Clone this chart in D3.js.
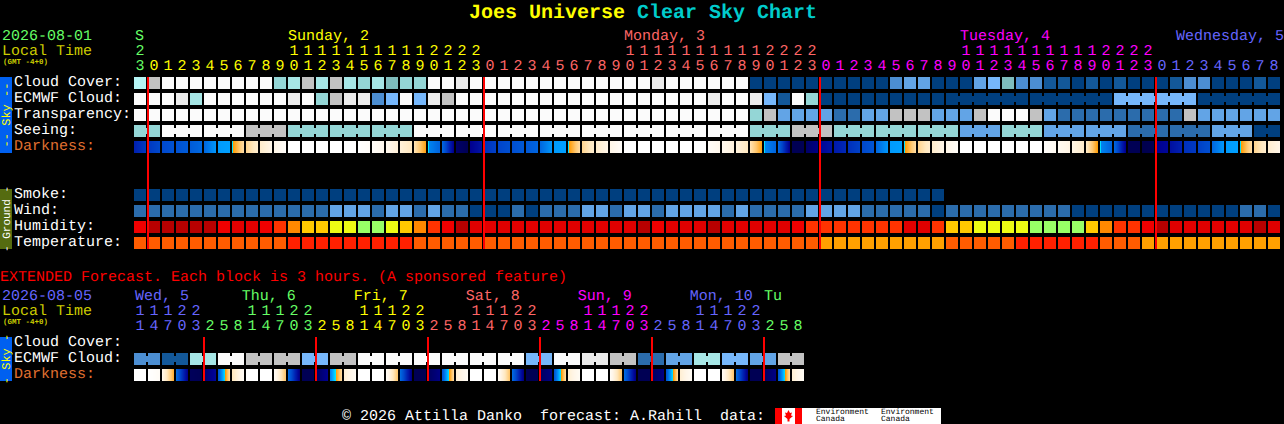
<!DOCTYPE html>
<html><head><meta charset="utf-8">
<script src="https://cdn.jsdelivr.net/npm/d3@7"></script>
<style>
html,body{margin:0;padding:0;background:#000;overflow:hidden}
svg{display:block}
text{font-family:"Liberation Mono",monospace;font-size:15px;white-space:pre;text-rendering:geometricPrecision}
</style></head><body>
<script>
// ---------- main forecast: one value per hour column, from 23h Saturday ----------
const mainHours=[23,0,1,2,3,4,5,6,7,8,9,10,11,12,13,14,15,16,17,18,19,20,21,22,23,0,1,2,3,4,5,6,7,8,9,10,11,12,13,14,15,16,17,18,19,20,21,22,23,0,1,2,3,4,5,6,7,8,9,10,11,12,13,14,15,16,17,18,19,20,21,22,23,0,1,2,3,4,5,6,7,8];
const mainHourDay=[0,1,1,1,1,1,1,1,1,1,1,1,1,1,1,1,1,1,1,1,1,1,1,1,1,2,2,2,2,2,2,2,2,2,2,2,2,2,2,2,2,2,2,2,2,2,2,2,2,3,3,3,3,3,3,3,3,3,3,3,3,3,3,3,3,3,3,3,3,3,3,3,3,4,4,4,4,4,4,4,4,4];
const cloudCover=[9,10,12,12,12,12,12,12,12,12,7,8,10,8,10,8,7,8,6,7,7,12,12,11,12,12,12,12,12,12,12,12,12,12,12,12,12,11,12,12,12,12,12,12,0,0,0,0,0,0,0,0,0,0,3,4,4,0,0,0,4,5,6,3,3,1,1,0,1,0,1,0,0,0,1,3,3,0,0,0,1,0];
const ecmwfCloud=[12,12,12,11,8,12,12,12,12,12,12,11,12,7,10,11,11,3,5,12,5,11,10,12,12,12,12,12,12,12,12,12,12,12,12,12,12,12,12,12,12,11,12,12,11,5,1,12,7,0,0,0,0,0,0,0,0,0,0,0,0,0,0,0,0,0,0,0,0,0,5,5,5,5,5,5,0,0,0,0,0,0];
const ecmwfSpans=[1,1,1,1,1,1,1,1,1,1,1,1,1,1,1,1,1,1,1,1,1,1,1,1,1,1,1,1,1,1,1,1,1,1,1,1,1,1,1,1,1,1,1,1,1,1,1,1,1,1,1,1,1,1,1,1,1,1,6,6,6,6];
const transparency=[12,12,12,12,12,12,12,12,12,12,12,12,12,12,12,12,12,12,12,12,12,12,12,12,12,12,12,12,12,12,12,12,12,12,12,12,12,12,12,12,12,12,12,12,7,10,4,4,4,4,2,2,4,4,10,10,10,4,4,4,10,12,12,12,10,4,2,2,2,2,2,2,2,2,2,10,4,4,4,4,4,4];
const seeing=[7,12,12,10,7,7,7,12,12,12,12,12,12,12,12,7,10,7,7,7,4,7,4,4,2,2,4,0];
const seeingSpans=[2,3,3,3,3,3,3,3,3,3,3,3,3,3,3,3,3,3,3,3,3,3,3,3,3,3,3,2];
const darkStart=[2,2.6,3,3.3,3.6,4,4.9,5.8,7.4,8.3,9,10,10,10,10,10,10,9.7,9.2,8.6,7.8,5.8,3.9,.4,1,2.4,2.9,3.2,3.5,4,4.9,5.8,7.4,8.3,9,10,10,10,10,10,10,9.7,9.2,8.7,7.8,5.8,3.9,.1,.4,1.2,1.8,2.4,3,4,4.9,5.8,7.4,8.3,9,10,10,10,10,10,10,9.8,9.4,8.9,8.1,5.8,3.9,.1,0,1,1.5,2.4,2.8,4,4.9,5.8,7.4,8.4];
const darkEnd=[2.6,3,3.3,3.6,4,4.8,5,7.6,8.3,9,9.7,10,10,10,10,10,9.7,9.2,8.6,8,6.2,3.9,1,.1,1.6,2.8,3.2,3.5,3.9,4.8,5,7.6,8.3,9,9.7,10,10,10,10,10,10,9.2,8.7,8,6.2,3.9,1,.1,.8,1.6,2.2,2.8,3.4,4.8,5,7.6,8.3,9,9.7,10,10,10,10,10,10,9.4,8.9,8.3,6.1,3.9,1,.1,.1,1.2,2,2.6,3.2,4.8,5,7.6,8.3,9];
const smoke=[0,0,0,0,0,0,0,0,0,0,0,0,0,0,0,0,0,0,0,0,0,0,0,0,0,0,0,0,0,0,0,0,0,0,0,0,0,0,0,0,0,0,0,0,0,0,0,0,0,0,0,0,0,0,0,0,0,0];
const wind=[2,2,2,2,2,2,2,2,2,2,2,2,2,2,4,4,4,2,4,4,2,4,2,2,0,0,0,2,0,2,2,2,4,4,2,4,4,2,4,4,4,4,2,4,2,2,2,2,4,4,4,4,2,2,2,2,2,0,2,2,2,2,2,2,2,2,2,0,0,0,0,0,0,0,0,0,0,0,0,2,2,0];
const humidity=[2,0,0,0,0,0,2,1,1,2,3,4,5,5,6,6,7,7,6,5,4,3,2,0,1,1,1,1,1,1,1,1,1,1,1,1,0,2,1,1,1,0,1,1,1,1,1,2,3,3,3,3,3,3,3,1,1,3,5,5,6,6,6,6,7,7,7,7,5,4,3,3,2,0,1,1,1,1,1,1,0,1];
const temperature=[1,1,1,1,1,1,1,1,1,1,1,0,0,0,0,0,0,0,0,0,1,1,1,1,1,1,1,1,1,1,1,1,1,1,1,1,1,1,1,1,1,1,1,1,1,1,1,1,1,2,2,2,2,2,2,2,2,2,1,1,1,1,1,0,0,0,0,0,0,1,1,1,2,2,2,2,2,2,2,2,2,2];

// ---------- extended forecast: one label per 3 hours ----------
const extHours=[11,14,17,20,23,2,5,8,11,14,17,20,23,2,5,8,11,14,17,20,23,2,5,8,11,14,17,20,23,2,5,8,11,14,17,20,23,2,5,8,11,14,17,20,23,2,5,8];
const extHourDay=[4,4,4,4,4,0,0,0,0,0,0,0,0,1,1,1,1,1,1,1,1,2,2,2,2,2,2,2,2,3,3,3,3,3,3,3,3,4,4,4,4,4,4,4,4,0,0,0];
const extEcmwf=[3,1,8,12,10,10,5,10,12,12,12,12,12,12,5,12,11,10,2,4,8,5,4,10];
const extDarkStart=[10,10,9,4,.2,.5,3.5,8,10,10,9.5,4,.1,.3,4.5,8.5,10,10,9.5,4,.1,.3,3.5,8.5,10,10,9.5,4,.1,.3,3.5,8.5,10,10,9.5,4,.1,.3,3.5,8.5,10,10,9.5,4,.1,.3,3.5,8.5];
const extDarkEnd=[10,9.6,6.5,1,.1,1.2,7.5,9.5,10,10,7,.8,.1,1,7.5,9.5,10,10,7,.8,.1,.8,7.5,9.5,10,10,7,.8,.1,.8,7.5,9.5,10,10,7,.8,.1,.8,7.5,9.5,10,10,7,.8,.1,.8,7.5,9.5];

// ---------- labels and palettes ----------
const dayColors=["#66ff66","#ffff00","#ff6666","#ff00ff","#6666ff"];
const mainDayLabels=[["S",0.07,0],["Sunday, 2",11,1],["Monday, 3",35,2],["Tuesday, 4",59,3],["Wednesday, 5",74.43,4]];
const extDayLabels=[["Wed, 5",0.07,4],["Thu, 6",7.7,0],["Fri, 7",15.7,1],["Sat, 8",23.7,2],["Sun, 9",31.7,3],["Mon, 10",39.7,4],["Tu",45,0]];
const mainMidnights=[1,25,49,73];
const extMidnights=[5,13,21,29,37,45];
const skyColors=["#003f7f","#135899","#2b6cac","#4c8ed2","#62a4e6","#76b7fb","#7fbdbd","#94d6d6","#a6e6e6","#b5f5f5","#c2c2c2","#ebebeb","#fbfbfb"];
const humidityColors=["#b80000","#e00000","#f00000","#ff3300","#ff8800","#ffc800","#edfc14","#98ff66"];
const temperatureColors=["#ff2000","#ff5c00","#ffa000"];
const darkStops=[0,1,2,3,4,5,5.9,6,7,8,9,10];
const darkStopColors=["#00004d","#000090","#0020b0","#0048cc","#0068e0","#00a0ff","#00e8ff","#ff9a00","#ffc870","#ffe8c0","#fff6e8","#ffffff"];

// ---------- layout ----------
const W=1284,H=424,gridLeft=134,pitch=14,cell=12;
const svg=d3.select("body").append("svg").attr("width",W).attr("height",H);
svg.append("rect").attr("width",W).attr("height",H).attr("fill","#000");
const x=d3.scaleLinear().domain([0,1]).range([gridLeft,gridLeft+pitch]);
const skyScale=d3.scaleOrdinal(d3.range(13),skyColors);
const humScale=d3.scaleOrdinal(d3.range(8),humidityColors);
const tempScale=d3.scaleOrdinal(d3.range(3),temperatureColors);
const darkScale=d3.scaleLinear().domain(darkStops).range(darkStopColors).clamp(true);

function expand(vals,spans){const o=[];vals.forEach((v,i)=>d3.range(spans[i]).forEach(()=>o.push(v)));return o;}
function links(spans){const o=[];let c=0;spans.forEach(s=>{d3.range(s-1).forEach(k=>o.push(c+k));c+=s;});return o;}

function cells(vals,y,scale,linkCols){
  const g=svg.append("g");
  g.selectAll("rect.c").data(vals).join("rect").attr("class","c")
    .attr("x",(d,i)=>x(i)).attr("y",y).attr("width",cell).attr("height",cell)
    .attr("fill",d=>scale(d));
  if(linkCols) g.selectAll("rect.l").data(linkCols).join("rect").attr("class","l")
    .attr("x",c=>x(c)+cell).attr("y",y+3).attr("width",pitch-cell).attr("height",cell-6)
    .attr("fill",c=>scale(vals[c]));
}
function darkRow(st,en,y){
  const g=svg.append("g");
  st.forEach((s,i)=>{
    const e=en[i];
    // twilight cells start with a one pixel turquoise edge, then jump
    const jump=s===5.8?(e>s?0.15:0.7):1/(cell-1);
    const t=d3.scaleLinear().domain([0,1,cell-1]).range([s,s+(e-s)*jump,e]);
    g.append("g").selectAll("rect").data(d3.range(cell)).join("rect")
      .attr("x",p=>x(i)+p).attr("y",y).attr("width",1).attr("height",cell)
      .attr("fill",p=>darkScale(t(p)));
  });
}
function txt(s,px,py,fill,opt={}){
  const e=svg.append("text").attr("x",px).attr("y",py).attr("fill",fill).text(s);
  if(opt.size)e.style("font-size",opt.size+"px");
  if(opt.bold)e.style("font-weight","bold");
  return e;
}
function hourRows(hours,dayIdx,yTens,yUnits){
  const g=svg.append("g").attr("text-anchor","middle");
  g.selectAll("text.u").data(hours).join("text").attr("class","u")
    .attr("x",(d,i)=>x(i)+6).attr("y",yUnits).attr("fill",(d,i)=>dayColors[dayIdx[i]]).text(d=>d%10);
  const t=hours.map((h,i)=>({h,i})).filter(d=>d.h>=10);
  g.selectAll("text.t").data(t).join("text").attr("class","t")
    .attr("x",d=>x(d.i)+6).attr("y",yTens).attr("fill",d=>dayColors[dayIdx[d.i]]).text(d=>Math.floor(d.h/10));
}
function redLines(cols,y0,y1){
  svg.append("g").selectAll("rect").data(cols).join("rect")
    .attr("x",c=>x(c)-1).attr("y",y0).attr("width",2).attr("height",y1-y0).attr("fill","#ff0000");
}
function side(y0,y1,color,label,textColor,size){
  svg.append("rect").attr("x",0).attr("y",y0).attr("width",12).attr("height",y1-y0).attr("fill",color);
  const cy=(y0+y1)/2;
  svg.append("text").attr("transform",`translate(9.5,${cy}) rotate(-90)`).attr("text-anchor","middle")
    .attr("fill",textColor).style("font-size",size+"px").text(label);
}

// ---------- title ----------
const title=svg.append("text").attr("x",469).attr("y",18).style("font-size","20px").style("font-weight","bold");
title.append("tspan").attr("fill","#ffff00").text("Joes Universe ");
title.append("tspan").attr("fill","#00cccc").text("Clear Sky Chart");

// ---------- main header ----------
txt("2026-08-01",2,40,"#66ff66");
txt("Local Time",2,55,"#cccc00");
txt("(GMT -4+0)",3,64,"#cccc00",{size:7.5,bold:true});
mainDayLabels.forEach(d=>txt(d[0],x(d[1]),40,dayColors[d[2]]));
hourRows(mainHours,mainHourDay,55,70);

// ---------- sky block ----------
[["Cloud Cover:",86],["ECMWF Cloud:",102],["Transparency:",118],["Seeing:",134]].forEach(d=>txt(d[0],14,d[1],"#ffffff"));
txt("Darkness:",14,150,"#e07030");
side(77,153,"#0060f0","-- Sky --","#ffff00",12);
cells(cloudCover,77,skyScale);
cells(ecmwfCloud,93,skyScale,links(ecmwfSpans));
cells(transparency,109,skyScale);
cells(expand(seeing,seeingSpans),125,skyScale,links(seeingSpans));
darkRow(darkStart,darkEnd,141);

// ---------- ground block ----------
[["Smoke:",198],["Wind:",214],["Humidity:",230],["Temperature:",246]].forEach(d=>txt(d[0],14,d[1],"#ffffff"));
side(189,249,"#556b10","- Ground -","#ffffff",11);
cells(smoke,189,skyScale);
cells(wind,205,skyScale);
cells(humidity,221,humScale);
cells(temperature,237,tempScale);
redLines(mainMidnights,77,249);

// ---------- extended block ----------
txt("EXTENDED Forecast. Each block is 3 hours. (A sponsored feature)",0,281,"#ff0000");
txt("2026-08-05",2,300,"#6666ff");
txt("Local Time",2,315,"#cccc00");
txt("(GMT -4+0)",3,324,"#cccc00",{size:7.5,bold:true});
extDayLabels.forEach(d=>txt(d[0],x(d[1]),300,dayColors[d[2]]));
hourRows(extHours,extHourDay,315,330);
txt("Cloud Cover:",14,346,"#ffffff");
txt("ECMWF Cloud:",14,362,"#ffffff");
txt("Darkness:",14,378,"#e07030");
side(337,381,"#0060f0","- Sky -","#ffff00",12);
cells(expand(extEcmwf,extEcmwf.map(()=>2)),353,skyScale,links(extEcmwf.map(()=>2)));
darkRow(extDarkStart,extDarkEnd,369);
redLines(extMidnights,337,381);

// ---------- footer ----------
txt("\u00a9 2026 Attilla Danko  forecast: A.Rahill  data:",342,420,"#ffffff");
svg.append("rect").attr("x",775).attr("y",408).attr("width",166).attr("height",16).attr("fill","#ffffff");
svg.append("rect").attr("x",775).attr("y",408).attr("width",7).attr("height",16).attr("fill","#ff0000");
svg.append("rect").attr("x",795).attr("y",408).attr("width",7).attr("height",16).attr("fill","#ff0000");
svg.append("path").attr("transform","translate(788.5,416)").attr("fill","#ff0000")
  .attr("d","M0,-6 L1.5,-3 L3.5,-3.5 L2.5,-0.5 L4.5,0 L1,3 L1,5.5 L-1,5.5 L-1,3 L-4.5,0 L-2.5,-0.5 L-3.5,-3.5 L-1.5,-3 Z");
[[816,"Environment"],[816,"Canada"],[881,"Environment"],[881,"Canada"]].forEach((d,i)=>
  txt(d[1],d[0],i%2?421:414,"#000000",{size:8}));
</script>
</body></html>
